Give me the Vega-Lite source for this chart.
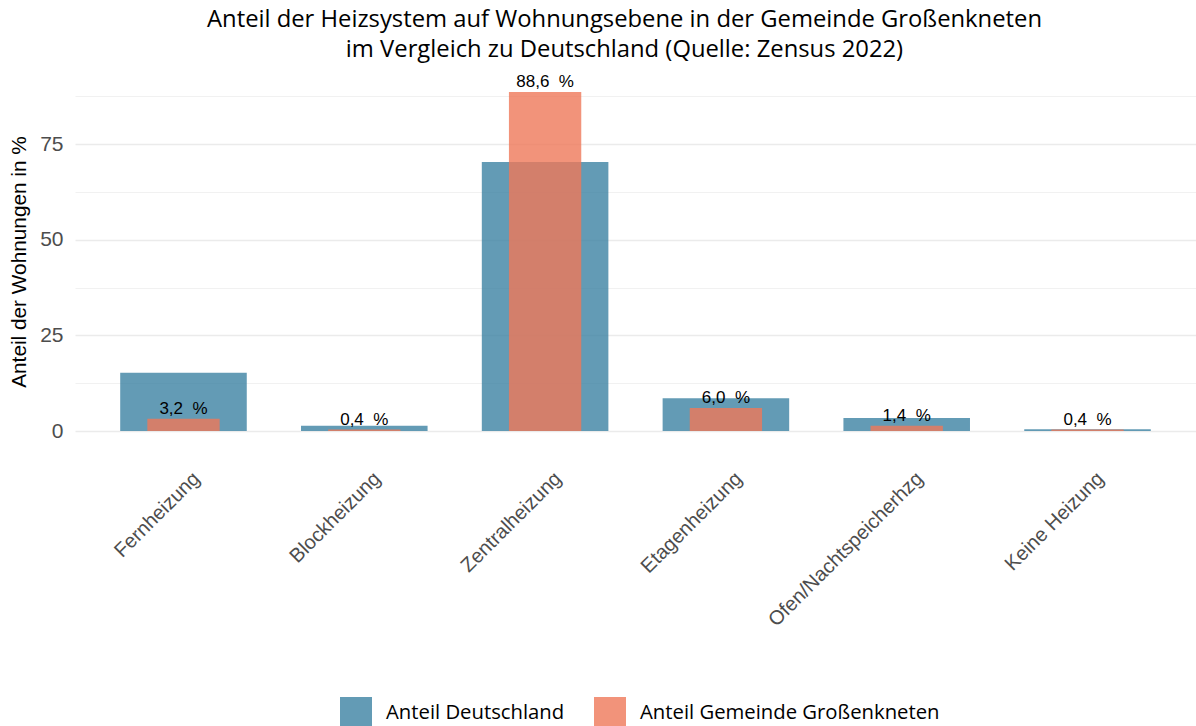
{
  "$schema": "https://vega.github.io/schema/vega-lite/v6.json",
  "width": 1121,
  "height": 373,
  "autosize": {"type": "none"},
  "padding": {"left": 75, "top": 75, "right": 0, "bottom": 278},
  "background": "white",
  "title": {
    "text": ["Anteil der Heizsystem auf Wohnungsebene in der Gemeinde Großenkneten", "im Vergleich zu Deutschland (Quelle: Zensus 2022)"],
    "font": "Open Sans",
    "fontSize": 23.8,
    "fontWeight": "normal",
    "color": "#000000",
    "anchor": "middle",
    "offset": 11,
    "lineHeight": 30,
    "dx": -11
  },
  "data": {
    "values": [
      {"kategorie": "Fernheizung", "deutschland": 15.2, "gemeinde": 3.2, "label": "3,2\u00a0\u00a0%"},
      {"kategorie": "Blockheizung", "deutschland": 1.4, "gemeinde": 0.4, "label": "0,4\u00a0\u00a0%"},
      {"kategorie": "Zentralheizung", "deutschland": 70.3, "gemeinde": 88.6, "label": "88,6\u00a0\u00a0%"},
      {"kategorie": "Etagenheizung", "deutschland": 8.6, "gemeinde": 6.0, "label": "6,0\u00a0\u00a0%"},
      {"kategorie": "Ofen/Nachtspeicherhzg", "deutschland": 3.4, "gemeinde": 1.4, "label": "1,4\u00a0\u00a0%"},
      {"kategorie": "Keine Heizung", "deutschland": 0.5, "gemeinde": 0.4, "label": "0,4\u00a0\u00a0%"}
    ]
  },
  "encoding": {
    "x": {
      "field": "kategorie",
      "type": "nominal",
      "sort": null,
      "scale": {"paddingInner": 0, "paddingOuter": 0.1},
      "axis": {
        "title": null,
        "labelAngle": -45,
        "labelAlign": "right",
        "labelBaseline": "top",
        "labelFont": "Liberation Sans",
        "labelFontSize": 20,
        "labelColor": "#4d4d4d",
        "labelPadding": 20,
        "labelOffset": 6,
        "labelLimit": 0,
        "labelOverlap": false,
        "ticks": false,
        "domain": false,
        "grid": false
      }
    }
  },
  "layer": [
    {
      "mark": {"type": "bar", "width": {"band": 0.7}, "opacity": 0.8},
      "encoding": {
        "y": {
          "field": "deutschland",
          "type": "quantitative",
          "scale": {"domain": [-4.43, 93.03], "nice": false, "zero": false},
          "axis": {
            "title": "Anteil der Wohnungen in %",
            "titleFont": "Liberation Sans",
            "titleFontSize": 20.8,
            "titleFontWeight": "normal",
            "titleColor": "#000000",
            "titlePadding": 10,
            "values": [0, 12.5, 25, 37.5, 50, 62.5, 75, 87.5],
            "labelExpr": "datum.value % 25 == 0 ? datum.label : ''",
            "labelFont": "Liberation Sans",
            "labelFontSize": 21,
            "labelColor": "#4d4d4d",
            "labelPadding": 12,
            "ticks": false,
            "domain": false,
            "gridColor": "#ebebeb",
            "gridWidth": {"condition": {"test": "datum.value % 25 == 0", "value": 1.4}, "value": 0.7}
          }
        },
        "color": {
          "datum": "Anteil Deutschland",
          "type": "nominal",
          "scale": {"domain": ["Anteil Deutschland", "Anteil Gemeinde Großenkneten"], "range": ["#3c82a3", "#ef7859"]},
          "legend": {
            "title": null,
            "orient": "none",
            "direction": "horizontal",
            "legendX": 265,
            "legendY": 622,
            "symbolType": "square",
            "symbolSize": 1024,
            "symbolOpacity": 0.8,
            "symbolStrokeWidth": 0,
            "labelFont": "Open Sans",
            "labelFontSize": 20.3,
            "labelColor": "#000000",
            "labelOffset": 14,
            "labelLimit": 0,
            "columnPadding": 29
          }
        }
      }
    },
    {
      "mark": {"type": "bar", "width": {"band": 0.4}, "opacity": 0.8},
      "encoding": {
        "y": {"field": "gemeinde", "type": "quantitative"},
        "color": {"datum": "Anteil Gemeinde Großenkneten", "type": "nominal"}
      }
    },
    {
      "mark": {"type": "text", "baseline": "bottom", "dy": -1, "font": "Liberation Sans", "fontSize": 17, "color": "#000000"},
      "encoding": {
        "y": {"field": "gemeinde", "type": "quantitative"},
        "text": {"field": "label"}
      }
    }
  ],
  "config": {"view": {"stroke": null}}
}
